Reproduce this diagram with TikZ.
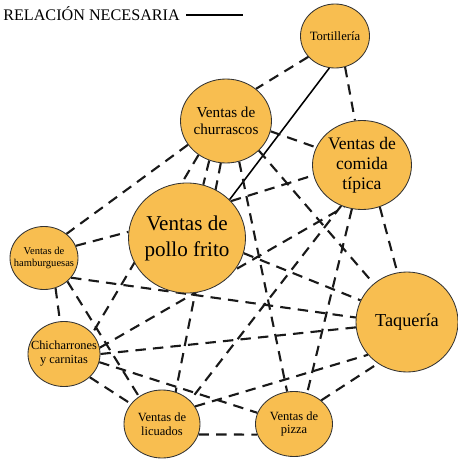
\documentclass[tikz,border=0pt]{standalone}
\usepackage{fontspec}
\setmainfont{Liberation Serif}
\usepackage{tikz}
\usetikzlibrary{shapes.geometric,backgrounds}
\definecolor{naranja}{RGB}{248,190,80}
\tikzstyle{negocio} = [ellipse, draw=black!80, line width=0.6pt, fill=naranja, inner sep=-4mm, align=center]
\tikzstyle{relacion} = [line width=1.5pt, dash pattern=on 2.6mm off 1.8mm, black!90]
\tikzstyle{necesaria} = [line width=1.1pt, black]

\begin{document}
\begin{tikzpicture}[x=0.25mm, y=-0.25mm]
\useasboundingbox (0,0) rectangle (458,459);

% Leyenda
\node (leyenda) [anchor=base west, inner sep=0pt, font=\fontsize{11.5}{13}\selectfont] at (3,20) {RELACIÓN NECESARIA};
\coordinate (ley1) at (186,15);
\coordinate (ley2) at (243,15);
\draw [necesaria] (ley1) -- (ley2);

% Negocios
\node (tortilleria) [negocio, minimum width=17.25mm, minimum height=16mm, font=\fontsize{9}{10}\selectfont] at (335,36) {Tortillería};
\node (churrascos) [negocio, minimum width=22.75mm, minimum height=21mm, font=\fontsize{10.8}{12}\selectfont] at (226,121) {Ventas de\\churrascos};
\node (comida) [negocio, minimum width=24.75mm, minimum height=22.25mm, font=\fontsize{12.5}{14.2}\selectfont] at (362,165) {Ventas de\\comida\\típica};
\node (pollo) [negocio, minimum width=29.25mm, minimum height=27.5mm, font=\fontsize{15}{18.5}\selectfont] at (187,238) {Ventas de\\pollo frito};
\node (hamburguesas) [negocio, minimum width=17mm, minimum height=15.75mm, font=\fontsize{7.5}{8.5}\selectfont] at (44,258) {Ventas de\\hamburguesas};
\node (chicharrones) [negocio, minimum width=18mm, minimum height=16.25mm, font=\fontsize{8.8}{10}\selectfont] at (64,354) {Chicharrones\\y carnitas};
\node (licuados) [negocio, minimum width=19mm, minimum height=17mm, font=\fontsize{8.9}{9.8}\selectfont] at (162,424) {Ventas de\\licuados};
\node (pizza) [negocio, minimum width=19.25mm, minimum height=16.25mm, font=\fontsize{8.9}{9.8}\selectfont] at (294,424) {Ventas de\\pizza};
\node (taqueria) [negocio, minimum width=25.5mm, minimum height=25mm, font=\fontsize{13}{15}\selectfont] at (407,322) {Taquería};

\begin{scope}[on background layer]
% Relacion necesaria
\draw [necesaria] (tortilleria.260) -- (pollo.42);

% Conexiones Tortilleria y Churrascos
\draw [relacion] (tortilleria.218) -- (churrascos.47);
\draw [relacion] (tortilleria.288) -- (comida.99);
\draw [relacion] (churrascos.347) -- (comida.159);
\draw [relacion] (churrascos.212) -- (hamburguesas.47);
\draw [relacion] (churrascos.247) -- (pollo.73);
\draw [relacion] (churrascos.231) -- (chicharrones.36);
\draw [relacion] (churrascos.263) -- (licuados.67);
\draw [relacion] (churrascos.288) -- (pizza.102);
\draw [relacion] (churrascos.318) -- (taqueria.131);

% Conexiones Pollo frito y Hamburguesas
\draw [relacion] (pollo.40) -- (comida.192);
\draw [relacion] (pollo.345) -- (taqueria.155);
\draw [relacion] (hamburguesas.21) -- (pollo.174);
\draw [relacion] (hamburguesas.324) -- (taqueria.175);
\draw [relacion] (hamburguesas.291) -- (chicharrones.97);
\draw [relacion] (hamburguesas.315) -- (licuados.130);

% Conexiones Chicharrones
\draw [relacion] (chicharrones.10) -- (comida.247);
\draw [relacion] (chicharrones.0) -- (taqueria.186);
\draw [relacion] (chicharrones.347) -- (pizza.163);
\draw [relacion] (chicharrones.318) -- (licuados.147);

% Conexiones Comida tipica
\draw [relacion] (comida.243) -- (licuados.40);
\draw [relacion] (comida.257) -- (pizza.67);
\draw [relacion] (comida.293) -- (taqueria.101);

% Conexiones Licuados, Pizza y Taqueria
\draw [relacion] (licuados.28) -- (taqueria.220);
\draw [relacion] (pizza.41) -- (taqueria.235);
\draw [relacion] (licuados.344) -- (pizza.196);
\end{scope}

\end{tikzpicture}
\end{document}
